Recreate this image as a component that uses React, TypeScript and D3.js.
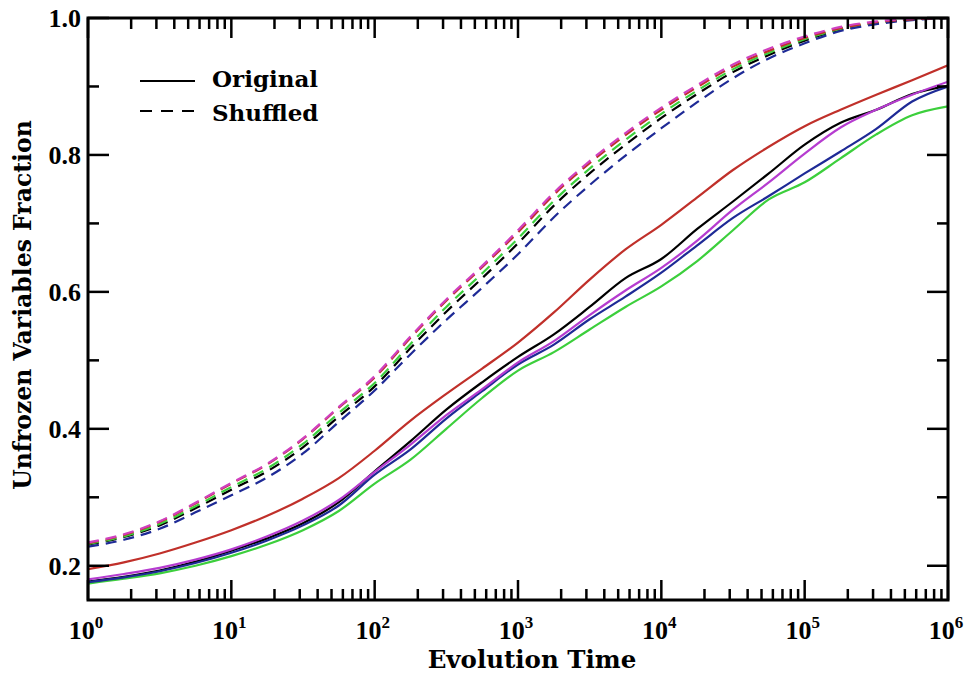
import React from "react";
import * as d3 from "d3";

const TIME = [1, 1.78, 3.16, 5.62, 10, 17.8, 31.6, 56.2, 100, 178, 316, 562, 1e3, 1.78e3, 3.16e3, 5.62e3, 1e4, 1.78e4, 3.16e4, 5.62e4, 1e5, 1.78e5, 3.16e5, 5.62e5, 1e6];

const ORIG_RED = [0.195, 0.205, 0.218, 0.234, 0.252, 0.273, 0.298, 0.328, 0.368, 0.412, 0.451, 0.488, 0.526, 0.570, 0.618, 0.662, 0.698, 0.738, 0.778, 0.812, 0.842, 0.866, 0.888, 0.909, 0.931];
const ORIG_BLACK = [0.177, 0.184, 0.193, 0.206, 0.222, 0.240, 0.262, 0.293, 0.338, 0.382, 0.428, 0.468, 0.505, 0.538, 0.578, 0.620, 0.648, 0.692, 0.732, 0.773, 0.815, 0.847, 0.866, 0.889, 0.901];
const ORIG_MAGENTA = [0.180, 0.188, 0.197, 0.209, 0.224, 0.243, 0.266, 0.296, 0.337, 0.377, 0.420, 0.458, 0.497, 0.528, 0.566, 0.602, 0.635, 0.675, 0.720, 0.760, 0.802, 0.840, 0.866, 0.888, 0.907];
const ORIG_BLUE = [0.176, 0.183, 0.192, 0.204, 0.219, 0.237, 0.259, 0.288, 0.333, 0.370, 0.415, 0.455, 0.494, 0.523, 0.560, 0.593, 0.628, 0.668, 0.708, 0.740, 0.773, 0.805, 0.838, 0.878, 0.900];
const ORIG_GREEN = [0.174, 0.181, 0.189, 0.200, 0.214, 0.231, 0.252, 0.280, 0.320, 0.355, 0.400, 0.445, 0.485, 0.512, 0.545, 0.578, 0.608, 0.645, 0.690, 0.735, 0.760, 0.795, 0.830, 0.858, 0.871];

const SHUF_MAGENTA = [0.234, 0.246, 0.265, 0.292, 0.321, 0.349, 0.386, 0.432, 0.477, 0.535, 0.589, 0.638, 0.690, 0.745, 0.791, 0.832, 0.869, 0.902, 0.932, 0.955, 0.973, 0.987, 0.995, 0.999, 1.0];
const SHUF_RED = [0.233, 0.245, 0.264, 0.291, 0.320, 0.348, 0.385, 0.431, 0.475, 0.533, 0.587, 0.636, 0.687, 0.742, 0.788, 0.829, 0.866, 0.899, 0.929, 0.952, 0.971, 0.985, 0.994, 0.998, 1.0];
const SHUF_GREEN = [0.232, 0.243, 0.261, 0.287, 0.315, 0.342, 0.378, 0.423, 0.467, 0.524, 0.578, 0.627, 0.678, 0.733, 0.780, 0.822, 0.860, 0.894, 0.925, 0.949, 0.969, 0.984, 0.993, 0.998, 1.0];
const SHUF_BLACK = [0.231, 0.242, 0.259, 0.284, 0.311, 0.338, 0.373, 0.418, 0.462, 0.518, 0.571, 0.620, 0.671, 0.726, 0.773, 0.815, 0.854, 0.889, 0.921, 0.946, 0.967, 0.983, 0.992, 0.998, 1.0];
const SHUF_BLUE = [0.228, 0.238, 0.254, 0.278, 0.303, 0.329, 0.364, 0.410, 0.456, 0.509, 0.559, 0.606, 0.655, 0.709, 0.756, 0.799, 0.839, 0.877, 0.912, 0.941, 0.963, 0.981, 0.991, 0.997, 1.0];

const SERIES = [
  { name: "orig-black", values: ORIG_BLACK, color: "#000000", dashed: false },
  { name: "orig-red", values: ORIG_RED, color: "#c0302a", dashed: false },
  { name: "orig-green", values: ORIG_GREEN, color: "#3ccf3c", dashed: false },
  { name: "orig-blue", values: ORIG_BLUE, color: "#1e2a96", dashed: false },
  { name: "orig-magenta", values: ORIG_MAGENTA, color: "#b63cd0", dashed: false },
  { name: "shuf-black", values: SHUF_BLACK, color: "#000000", dashed: true },
  { name: "shuf-green", values: SHUF_GREEN, color: "#3ccf3c", dashed: true },
  { name: "shuf-blue", values: SHUF_BLUE, color: "#1e2a96", dashed: true },
  { name: "shuf-red", values: SHUF_RED, color: "#c0302a", dashed: true },
  { name: "shuf-magenta", values: SHUF_MAGENTA, color: "#d040c0", dashed: true },
];

const Y_MAJOR = [0.2, 0.4, 0.6, 0.8, 1.0];
const Y_MINOR = [0.3, 0.5, 0.7, 0.9];
const X_DECADES = [0, 1, 2, 3, 4, 5, 6];

const W = 965, H = 674;
const L = 88, R = 948, T = 18, B = 600;

export default function App() {
  const x = d3.scaleLog().domain([1, 1e6]).range([L, R]);
  const y = d3.scaleLinear().domain([0.15, 1.0]).range([B, T]);
  const line = d3.line<number>()
    .x((_, i) => x(TIME[i]))
    .y((v) => y(v))
    .curve(d3.curveMonotoneX);

  const minorX: number[] = [];
  for (let d = 0; d < 6; d++) for (let m = 2; m <= 9; m++) minorX.push(m * Math.pow(10, d));

  const numFont = "'Liberation Serif', serif";
  const txtFont = "'DejaVu Serif', serif";

  return (
    <svg width={W} height={H} style={{ position: "absolute", left: 0, top: 0, background: "#fff" }}>
      <defs>
        <clipPath id="plot">
          <rect x={L} y={T} width={R - L} height={B - T} />
        </clipPath>
      </defs>
      <g clipPath="url(#plot)">
        {SERIES.map((s) => (
          <path key={s.name} d={line(s.values) || ""} fill="none" stroke={s.color}
            strokeWidth={2.2} strokeDasharray={s.dashed ? "11 7" : undefined} />
        ))}
      </g>
      <g stroke="#000" strokeWidth={2.5}>
        {X_DECADES.map((d) => {
          const px = x(Math.pow(10, d));
          return (
            <g key={"xd" + d}>
              <line x1={px} x2={px} y1={B} y2={B - 20} />
              <line x1={px} x2={px} y1={T} y2={T + 20} />
            </g>
          );
        })}
        {minorX.map((v) => {
          const px = x(v);
          return (
            <g key={"xm" + v}>
              <line x1={px} x2={px} y1={B} y2={B - 11} />
              <line x1={px} x2={px} y1={T} y2={T + 11} />
            </g>
          );
        })}
        {Y_MAJOR.map((v) => (
          <g key={"ym" + v}>
            <line x1={L} x2={L + 21} y1={y(v)} y2={y(v)} />
            <line x1={R} x2={R - 21} y1={y(v)} y2={y(v)} />
          </g>
        ))}
        {Y_MINOR.map((v) => (
          <g key={"yn" + v}>
            <line x1={L} x2={L + 11} y1={y(v)} y2={y(v)} />
            <line x1={R} x2={R - 11} y1={y(v)} y2={y(v)} />
          </g>
        ))}
      </g>
      <rect x={L} y={T} width={R - L} height={B - T} fill="none" stroke="#000" strokeWidth={3} />
      {Y_MAJOR.map((v) => (
        <text key={"yl" + v} x={L - 7} y={y(v) + 9} textAnchor="end" fontFamily={numFont}
          fontWeight="bold" fontSize={26}>{v.toFixed(1)}</text>
      ))}
      {X_DECADES.map((d) => (
        <text key={"xl" + d} x={x(Math.pow(10, d)) - 2} y={639} textAnchor="middle" fontFamily={numFont}
          fontWeight="bold" fontSize={26}>
          10<tspan dy={-11} fontSize={17}>{d}</tspan>
        </text>
      ))}
      <text x={532} y={668} textAnchor="middle" fontFamily={txtFont} fontWeight="bold" fontSize={24.5}>Evolution Time</text>
      <text transform={`translate(31,305) rotate(-90)`} textAnchor="middle" fontFamily={txtFont}
        fontWeight="bold" fontSize={23.5}>Unfrozen Variables Fraction</text>
      <line x1={140} x2={195} y1={81} y2={81} stroke="#000" strokeWidth={2} />
      <line x1={140} x2={195} y1={111} y2={111} stroke="#000" strokeWidth={2} strokeDasharray="12 9" />
      <text x={212} y={87} fontFamily={txtFont} fontWeight="bold" fontSize={23}>Original</text>
      <text x={212} y={121} fontFamily={txtFont} fontWeight="bold" fontSize={23}>Shuffled</text>
    </svg>
  );
}
